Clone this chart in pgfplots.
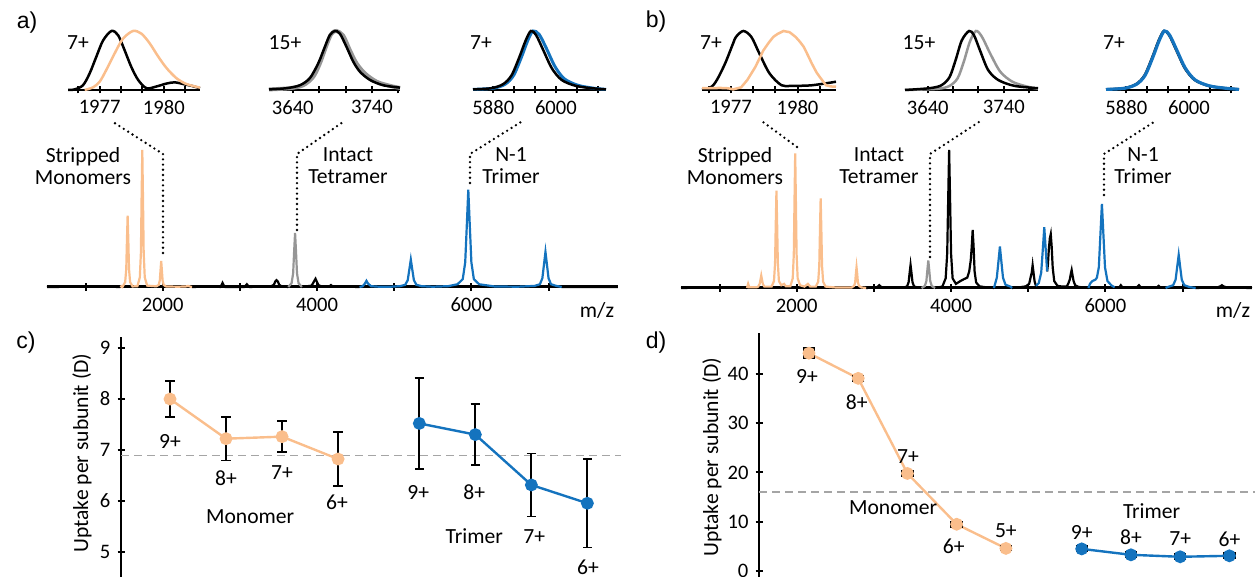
\documentclass[border=0pt]{standalone}
\usepackage{fontspec}
\setmainfont{Carlito}
\newfontfamily\arialfont{Liberation Sans}
\usepackage{pgfplots}
\pgfplotsset{compat=1.18}
\definecolor{morange}{RGB}{250,190,140}
\definecolor{mblue}{RGB}{20,115,190}
\definecolor{mgray}{RGB}{150,150,150}
\definecolor{dgray}{RGB}{165,165,165}
\pgfplotsset{
 base/.style={scale only axis, anchor=south west, clip=false,
   /pgf/number format/assume math mode=true,
   /pgf/number format/set thousands separator={},
   tick align=outside,
   tick style={black, line width=1pt},
   ticklabel style={font=\fontsize{10.3}{12}\selectfont},
   unbounded coords=jump},
 noarr/.style={axis line style={-, line width=#1, black},
   x axis line style={-}, y axis line style={-},
   every outer x axis line/.append style={-},
   every outer y axis line/.append style={-}},
 spec/.style={base, axis x line=bottom, axis y line=none, ytick=\empty,
   xmin=500, xmax=7900, ymin=0, ymax=1, width=285.5pt, height=68.5pt,
   xtick={1000,2000,...,7000}, xticklabels={,2000,,4000,,6000,},
   major tick length=4pt},
 inset/.style={base, axis x line=bottom, axis y line=none, ytick=\empty,
   ymin=0, ymax=1, height=29.5pt, major tick length=3.5pt},
 sp/.style={line width=1.1pt},
 il/.style={line width=1.25pt, smooth, tension=0.5},
}
\begin{document}
\begin{tikzpicture}[font=\fontsize{10.8}{12}\selectfont]
\path[use as bounding box] (0,0) rectangle (630pt,288.5pt);

%================ a) spectrum
\begin{axis}[spec, at={(23.5pt,145pt)}, noarr=1.5pt]
\addplot[sp, black] coordinates {(500,0) (1200,0.003) (1450,0) (1460,nan) (2380,0) (2700,0.004) (2745,0) (2758,0.01) (2775,0.03) (2792,0.01) (2810,0) (3055,0) (3072,0.008) (3090,0.02) (3108,0.008) (3125,0) (3400,0.005) (3440,0.015) (3458,0.04) (3475,0.05) (3492,0.04) (3510,0.015) (3550,0.003) (3627,0) (3640,nan) (3803,0) (3930,0.01) (3955,0.035) (3980,0.06) (4000,0.035) (4020,0.012) (4060,0.005) (4160,0.005) (4180,0.014) (4200,0.005) (4300,0.003) (4550,0) (4560,nan) (7170,0) (7900,0)};
\addplot[sp, morange] coordinates {(1450,0) (1465,0.006) (1475,0) (1482,0.004) (1513,0.036) (1527,0.13) (1536,0.34) (1545,0.52) (1554,0.34) (1563,0.13) (1577,0.036) (1608,0.004) (1672,0.006) (1703,0.07) (1717,0.25) (1726,0.65) (1735,1.0) (1744,0.65) (1753,0.25) (1767,0.07) (1798,0.01) (1917,0.005) (1948,0.015) (1962,0.048) (1971,0.12) (1980,0.19) (1989,0.12) (1998,0.048) (2012,0.015) (2043,0.004) (2200,0.002) (2300,0.004) (2330,0.008) (2360,0.002) (2380,0)};
\addplot[sp, mgray] coordinates {(3627,0) (3670,0.028) (3690,0.1) (3703,0.26) (3715,0.395) (3727,0.26) (3740,0.1) (3760,0.028) (3803,0)};
\addplot[sp, mblue] coordinates {(4550,0) (4590,0.005) (4620,0.025) (4640,0.045) (4660,0.025) (4700,0.006) (4800,0.002) (4950,0.002) (5075,0.006) (5143,0.016) (5175,0.05) (5195,0.124) (5215,0.2) (5235,0.124) (5255,0.05) (5287,0.016) (5355,0.006) (5500,0.002) (5700,0.006) (5820,0.02) (5888,0.057) (5920,0.18) (5940,0.44) (5960,0.71) (5980,0.44) (6000,0.18) (6032,0.057) (6100,0.02) (6300,0.004) (6600,0.002) (6820,0.008) (6888,0.02) (6920,0.064) (6940,0.16) (6960,0.256) (6980,0.16) (7000,0.064) (7032,0.02) (7100,0.008) (7170,0)};
\end{axis}

%================ b) spectrum
\begin{axis}[spec, at={(340.5pt,144.5pt)}, height=69pt, noarr=1.5pt]
\addplot[sp, black] coordinates {(500,0) (1000,0.004) (1300,0.006) (1355,0) (1365,nan) (2900,0) (3030,0.004) (3055,0.012) (3070,0.02) (3085,0.012) (3110,0.003) (3387,0.003) (3430,0.012) (3450,0.042) (3463,0.11) (3475,0.167) (3487,0.11) (3500,0.042) (3520,0.012) (3563,0.003) (3617,0) (3630,nan) (3793,0) (3887,0.01) (3930,0.07) (3950,0.25) (3963,0.65) (3975,1.0) (3987,0.65) (4000,0.25) (4020,0.07) (4063,0.03) (4120,0.05) (4170,0.065) (4210,0.075) (4235,0.12) (4255,0.2) (4268,0.3) (4280,0.42) (4292,0.3) (4305,0.12) (4325,0.04) (4368,0.012) (4450,0.005) (4555,0) (4565,nan) (4790,0) (4900,0.006) (4969,0.012) (5012,0.03) (5032,0.08) (5045,0.11) (5057,0.165) (5069,0.11) (5082,0.05) (5100,0.015) (5110,nan) (5245,0.12) (5255,0.17) (5267,0.28) (5280,0.36) (5292,0.39) (5304,0.3) (5317,0.15) (5337,0.05) (5380,0.015) (5450,0.01) (5500,0.012) (5518,0.03) (5538,0.06) (5551,0.1) (5563,0.13) (5575,0.09) (5588,0.05) (5608,0.02) (5651,0.008) (5780,0) (5790,nan) (6120,0.005) (6180,0.005) (6200,0.02) (6220,0.005) (6410,0.005) (6435,0.02) (6460,0.005) (6670,0.004) (6690,0.015) (6710,0.004) (6780,0) (6790,nan) (7170,0) (7450,0.004) (7490,0.012) (7510,0.02) (7530,0.012) (7580,0.003) (7900,0)};
\addplot[sp, morange] coordinates {(1355,0) (1370,0.03) (1385,0.005) (1480,0.005) (1500,0.01) (1520,0.03) (1530,0.06) (1540,0.09) (1550,0.06) (1560,0.03) (1580,0.01) (1620,0.01) (1674,0.01) (1705,0.05) (1719,0.18) (1728,0.46) (1737,0.706) (1746,0.46) (1755,0.18) (1769,0.05) (1800,0.02) (1835,0.03) (1860,0.012) (1917,0.012) (1948,0.07) (1962,0.245) (1971,0.63) (1980,0.975) (1989,0.63) (1998,0.245) (2012,0.07) (2043,0.02) (2100,0.01) (2145,0.03) (2175,0.01) (2247,0.01) (2278,0.045) (2292,0.16) (2301,0.42) (2310,0.65) (2319,0.42) (2328,0.16) (2342,0.045) (2373,0.01) (2500,0.004) (2650,0.004) (2712,0.004) (2743,0.015) (2757,0.04) (2766,0.1) (2775,0.15) (2784,0.1) (2793,0.04) (2807,0.015) (2838,0.004) (2900,0)};
\addplot[sp, mgray] coordinates {(3617,0) (3660,0.014) (3680,0.05) (3693,0.13) (3705,0.2) (3717,0.13) (3730,0.05) (3750,0.014) (3793,0)};
\addplot[sp, mblue] coordinates {(4555,0) (4561,0.01) (4593,0.075) (4613,0.186) (4633,0.3) (4653,0.186) (4673,0.075) (4705,0.024) (4773,0.009) (4790,0)};
\addplot[sp, mblue] coordinates {(5100,0.015) (5136,0.035) (5168,0.11) (5188,0.27) (5208,0.44) (5228,0.27) (5245,0.12)};
\addplot[sp, mblue] coordinates {(5780,0) (5800,0.03) (5830,0.05) (5870,0.06) (5890,0.075) (5915,0.15) (5935,0.38) (5955,0.61) (5975,0.38) (5995,0.15) (6027,0.05) (6080,0.018) (6120,0.005)};
\addplot[sp, mblue] coordinates {(6780,0) (6810,0.007) (6878,0.02) (6910,0.06) (6930,0.15) (6950,0.24) (6970,0.15) (6990,0.06) (7022,0.02) (7090,0.007) (7170,0)};
\end{axis}

%================ a) insets
\begin{axis}[inset, at={(34pt,243.5pt)}, width=66pt, xmin=1975.52, xmax=1981.69,
  xtick={1976,...,1981}, xticklabels={,1977,,,1980,}, noarr=1.2pt]
\addplot[il, black] coordinates {(1975.52,0) (1975.83,0.01) (1976.22,0.08) (1976.53,0.28) (1976.84,0.56) (1977.16,0.84) (1977.55,1.0) (1977.86,0.93) (1978.17,0.67) (1978.48,0.39) (1978.80,0.17) (1979.19,0.03) (1979.66,0.06) (1980.13,0.11) (1980.52,0.13) (1980.91,0.10) (1981.30,0.07) (1981.69,0.03)};
\addplot[il, morange] coordinates {(1976.30,0) (1976.69,0.045) (1977.00,0.14) (1977.31,0.34) (1977.70,0.62) (1978.09,0.87) (1978.56,1.0) (1978.95,0.955) (1979.34,0.79) (1979.73,0.57) (1980.13,0.37) (1980.59,0.2) (1981.06,0.1) (1981.69,0.04)};
\end{axis}
\begin{axis}[inset, at={(134.5pt,243.5pt)}, width=65.5pt, xmin=3610, xmax=3775.4,
  xtick={3640,3673.33,3706.67,3740,3773.33}, xticklabels={3640,,,3740,}, noarr=1.2pt]
\addplot[il, mgray, line width=2pt] coordinates {(3610.0,0.01) (3636.2,0.03) (3653.1,0.08) (3665.7,0.22) (3674.2,0.45) (3682.6,0.76) (3688.9,0.955) (3695.3,1.0) (3703.7,0.92) (3712.2,0.67) (3720.6,0.45) (3731.1,0.28) (3745.9,0.14) (3762.8,0.07) (3775.4,0.035)};
\addplot[il, black] coordinates {(3610.0,0.01) (3632.0,0.03) (3648.9,0.08) (3661.5,0.2) (3672.1,0.45) (3680.5,0.73) (3686.8,0.93) (3693.2,1.0) (3699.5,0.955) (3707.9,0.73) (3716.4,0.48) (3724.8,0.31) (3737.5,0.17) (3754.3,0.08) (3775.4,0.04)};
\end{axis}
\begin{axis}[inset, at={(236.5pt,243.5pt)}, width=66.5pt, xmin=5841, xmax=6096,
  xtick={5840,5880,...,6080}, xticklabels={,5880,,,6000,,}, noarr=1.2pt]
\addplot[il, mblue, line width=1.5pt] coordinates {(5841,0.01) (5880,0.03) (5903,0.1) (5919,0.25) (5934,0.56) (5946,0.84) (5956,1.0) (5968,0.94) (5982,0.7) (5998,0.4) (6016,0.19) (6042,0.08) (6072,0.03) (6096,0.01)};
\addplot[il, black] coordinates {(5841,0.01) (5876,0.03) (5899,0.1) (5915,0.25) (5930,0.56) (5942,0.84) (5952,1.0) (5962,0.93) (5976,0.67) (5992,0.37) (6011,0.17) (6038,0.07) (6069,0.03) (6096,0.01)};
\end{axis}

%================ b) insets
\begin{axis}[inset, at={(351pt,243.5pt)}, width=67pt, xmin=1975.70, xmax=1981.73,
  xtick={1976,...,1981}, xticklabels={,1977,,,1980,}, noarr=1.2pt]
\addplot[il, black] coordinates {(1975.70,0.01) (1976.10,0.045) (1976.37,0.17) (1976.74,0.45) (1977.10,0.79) (1977.23,0.9) (1977.56,1.0) (1977.92,0.9) (1978.28,0.62) (1978.74,0.28) (1979.28,0.08) (1979.73,0.07) (1980.64,0.08) (1981.73,0.14)};
\addplot[line width=1.25pt, morange] coordinates {(1975.70,0.03) (1976.10,0.03) (1976.5,0.035) (1976.83,0.03) (1977.0,0.02) (1977.10,0.01) (1977.3,0.03) (1977.46,0.045) (1977.74,0.17) (1978.10,0.39) (1978.46,0.67) (1978.7,0.8) (1978.91,0.9) (1979.1,0.95) (1979.37,1.0) (1979.5,0.99) (1979.64,0.98) (1979.91,0.9) (1980.1,0.82) (1980.28,0.73) (1980.45,0.6) (1980.64,0.45) (1980.85,0.3) (1981.00,0.22) (1981.28,0.08) (1981.5,0.06) (1981.73,0.055)};
\end{axis}
\begin{axis}[inset, at={(452.5pt,243.5pt)}, width=66.5pt, xmin=3610.1, xmax=3784.9,
  xtick={3640,3673.33,3706.67,3740,3773.33}, xticklabels={3640,,,3740,}, noarr=1.2pt]
\addplot[il, mgray] coordinates {(3610.1,0) (3652.8,0.02) (3668.7,0.07) (3679.3,0.2) (3687.4,0.48) (3695.4,0.82) (3703.4,1.0) (3711.3,0.9) (3722.0,0.62) (3735.3,0.31) (3751.3,0.14) (3770.0,0.06) (3784.9,0.02)};
\addplot[il, black] coordinates {(3610.1,0) (3642.1,0.03) (3658.0,0.08) (3668.7,0.22) (3676.7,0.51) (3684.7,0.84) (3694.3,1.0) (3700.7,0.93) (3708.7,0.67) (3719.3,0.34) (3732.6,0.17) (3753.9,0.07) (3784.9,0.03)};
\end{axis}
\begin{axis}[inset, at={(553pt,243.5pt)}, width=66.5pt, xmin=5841, xmax=6096,
  xtick={5840,5880,...,6080}, xticklabels={,5880,,,6000,,}, noarr=1.2pt]
\addplot[il, black] coordinates {(5841,0.01) (5876,0.03) (5899,0.1) (5915,0.25) (5930,0.56) (5942,0.84) (5952,1.0) (5962,0.93) (5976,0.67) (5992,0.37) (6011,0.17) (6038,0.07) (6069,0.03) (6096,0.01)};
\addplot[il, mblue, line width=1.6pt] coordinates {(5841,0.01) (5877,0.03) (5900,0.1) (5916,0.25) (5931,0.56) (5943,0.84) (5953,1.0) (5963,0.93) (5977,0.67) (5993,0.37) (6012,0.17) (6039,0.07) (6070,0.03) (6096,0.01)};
\end{axis}

%================ c)
\begin{axis}[base, at={(60.5pt,0pt)}, width=250pt, height=120pt,
  axis y line=left, axis x line=none, xtick=\empty,
  xmin=-0.875, xmax=8.05, ymin=4.5, ymax=9.22, ytick={5,6,7,8,9},
  major tick length=3.5pt, noarr=1.2pt]
\addplot[dgray, line width=0.9pt, dash pattern=on 4pt off 2.5pt] coordinates {(-0.875,6.89) (8.05,6.89)};
\addplot[morange, line width=1.2pt, mark=*, mark size=2.6pt, mark options={fill=morange, draw=morange},
  error bars/.cd, y dir=both, y explicit, error mark=-,
  error bar style={black, line width=0.9pt},
  error mark options={black, rotate=90, line width=0.9pt, mark size=2.3pt}]
  table[x=x, y=y, y error=e, row sep=\\] {x y e\\ 0 8.00 0.36\\ 1 7.22 0.43\\ 2 7.26 0.30\\ 3 6.82 0.53\\};
\addplot[mblue, line width=1.2pt, mark=*, mark size=2.6pt, mark options={fill=mblue, draw=mblue},
  error bars/.cd, y dir=both, y explicit, error mark=-,
  error bar style={black, line width=0.9pt},
  error mark options={black, rotate=90, line width=0.9pt, mark size=2.3pt}]
  table[x=x, y=y, y error=e, row sep=\\] {x y e\\ 4.45 7.52 0.89\\ 5.45 7.30 0.60\\ 6.45 6.31 0.62\\ 7.45 5.95 0.87\\};
\node at (axis cs:0,7.16) {9+};
\node at (axis cs:1,6.45) {8+};
\node at (axis cs:2,6.55) {7+};
\node at (axis cs:2.98,5.97) {6+};
\node at (axis cs:1.43,5.68) {Monomer};
\node at (axis cs:4.43,6.17) {9+};
\node at (axis cs:5.43,6.17) {8+};
\node at (axis cs:5.43,5.30) {Trimer};
\node at (axis cs:6.5,5.30) {7+};
\node at (axis cs:7.46,4.69) {6+};
\end{axis}

%================ d)
\begin{axis}[base, at={(379.5pt,0pt)}, width=248pt, height=122pt,
  axis y line=left, axis x line=none, xtick=\empty,
  xmin=-1.015, xmax=9.06, ymin=-1.2, ymax=48.3, ytick={0,10,...,40},
  major tick length=3.5pt, noarr=1.2pt]
\addplot[dgray, line width=0.9pt, dash pattern=on 4pt off 2.5pt] coordinates {(-1.015,16) (9.06,16)};
\addplot[morange, line width=1.2pt, mark=*, mark size=2.6pt, mark options={fill=morange, draw=morange}] coordinates {(0,44.2) (1,39.1) (2,19.8) (3,9.5) (4,4.6)};
\addplot[mblue, line width=1.2pt, mark=*, mark size=2.6pt, mark options={fill=mblue, draw=mblue}] coordinates {(5.54,4.5) (6.54,3.3) (7.54,2.9) (8.54,3.1)};
\addplot[draw=none, mark=none,
  error bars/.cd, y dir=both, y explicit, error mark=-,
  error bar style={draw=black, line width=1.2pt},
  error mark options={draw=black, rotate=90, line width=2.1pt, mark size=3.1pt}]
  table[x=x, y=y, y error=e, row sep=\\] {x y e\\ 0 44.2 0.8\\ 1 39.1 0.3\\ 2 19.8 0.3\\ 3 9.5 0.3\\ 4 4.6 0.2\\ 5.54 4.5 0.3\\ 6.54 3.3 0.3\\ 7.54 2.9 0.3\\ 8.54 3.1 0.3\\};
\node at (axis cs:-0.04,39.4) {9+};
\node at (axis cs:0.97,34.3) {8+};
\node at (axis cs:2.01,23.3) {7+};
\node at (axis cs:1.71,12.8) {Monomer};
\node at (axis cs:2.94,5.1) {6+};
\node at (axis cs:4.0,8.3) {5+};
\node at (axis cs:6.96,12.2) {Trimer};
\node at (axis cs:5.54,7.9) {9+};
\node at (axis cs:6.54,6.9) {8+};
\node at (axis cs:7.54,6.5) {7+};
\node at (axis cs:8.54,6.5) {6+};
\end{axis}

%================ annotations
\begin{scope}[line width=1.3pt, dash pattern=on 0pt off 2.6pt, line cap=round]
\draw (81.5pt,162pt) -- (81.5pt,211.5pt) -- (56.5pt,227.5pt);
\draw (148.5pt,173.5pt) -- (148.5pt,211.5pt) -- (171.5pt,227.5pt);
\draw (235pt,197pt) -- (235pt,211.5pt) -- (260.5pt,227.5pt);
\draw (398.5pt,215pt) -- (381.5pt,227.5pt);
\draw (465pt,160pt) -- (465pt,211.5pt) -- (489.5pt,227.5pt);
\draw (552pt,191pt) -- (552pt,211.5pt) -- (577pt,227.5pt);
\end{scope}
\begin{scope}[every node/.style={align=center, font=\fontsize{10.8}{11}\selectfont}]
\node at (41.5pt,205.5pt) {Stripped\\Monomers};
\node at (174pt,205.5pt) {Intact\\Tetramer};
\node at (255.5pt,205.5pt) {N-1\\Trimer};
\node at (367.5pt,205.5pt) {Stripped\\Monomers};
\node at (439.5pt,205.5pt) {Intact\\Tetramer};
\node at (571.5pt,205.5pt) {N-1\\Trimer};
\end{scope}
\node at (39pt,267pt) {7+};
\node at (142.5pt,267pt) {15+};
\node at (240.5pt,267pt) {7+};
\node at (355.5pt,267pt) {7+};
\node at (459.5pt,267pt) {15+};
\node at (557pt,267pt) {7+};
\node at (298.5pt,133.5pt) {m/z};
\node at (616.5pt,133.5pt) {m/z};
\node[rotate=90] at (41pt,62pt) {Uptake per subunit (D)};
\node[rotate=90] at (356pt,60pt) {Uptake per subunit (D)};
\begin{scope}[every node/.style={font=\arialfont\fontsize{11.5}{13}\selectfont}]
\node at (13.5pt,277pt) {a)};
\node at (328pt,277.5pt) {b)};
\node at (13pt,117pt) {c)};
\node at (328pt,117pt) {d)};
\end{scope}
\end{tikzpicture}
\end{document}
